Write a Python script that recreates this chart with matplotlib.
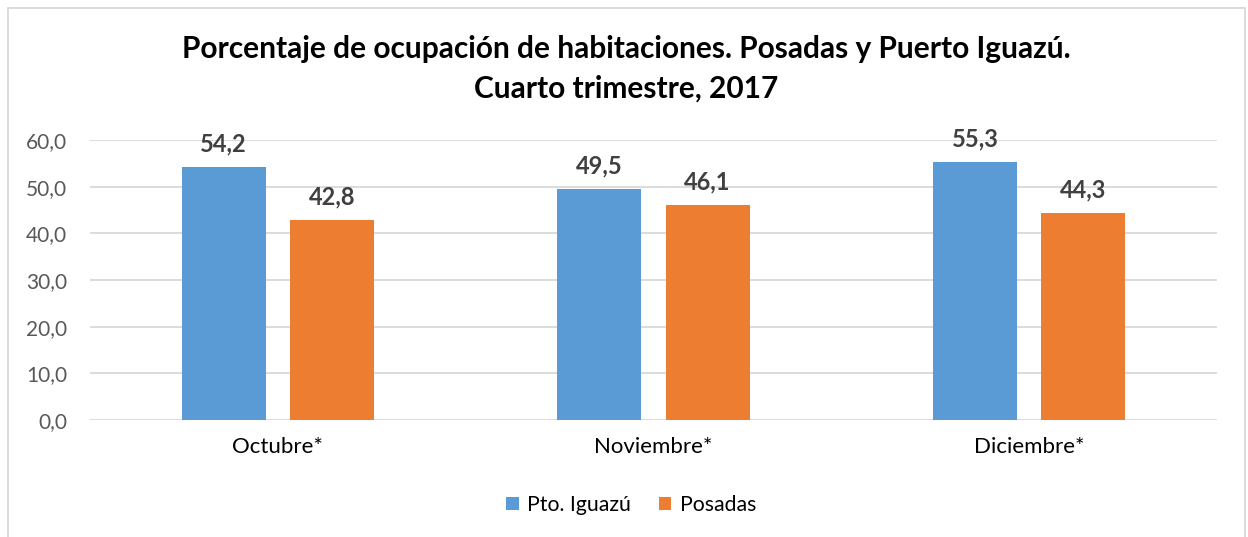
import matplotlib
matplotlib.use("Agg")
import matplotlib.pyplot as plt
import numpy as np
from matplotlib.patches import Rectangle

categories = ["Octubre*", "Noviembre*", "Diciembre*"]
series_names = ["Pto. Iguazú", "Posadas"]
iguazu = [54.2, 49.5, 55.3]
posadas = [42.8, 46.1, 44.3]
yticks = [0, 10, 20, 30, 40, 50, 60]
title = "Porcentaje de ocupación de habitaciones. Posadas y Puerto Iguazú.\nCuarto trimestre, 2017"

colors = ["#5B9BD5", "#ED7D31"]
plt.rcParams['font.family'] = ['Lato', 'DejaVu Sans']

W, H = 1248, 537
fig = plt.figure(figsize=(W / 100, H / 100), dpi=100)
fig.patches.append(Rectangle((8 / W, -0.05), (1245 - 8) / W, 1.05 - 8 / H,
                             transform=fig.transFigure, fill=False,
                             edgecolor="#D9D9D9", linewidth=1.3))

ax = fig.add_axes([90 / W, 1 - 420 / H, (1217 - 90) / W, (420 - 140) / H])
x = np.arange(len(categories))
bw = 0.224
off = 0.144
b1 = ax.bar(x - off, iguazu, bw, color=colors[0], label=series_names[0], zorder=3)
b2 = ax.bar(x + off, posadas, bw, color=colors[1], label=series_names[1], zorder=3)

for bars, vals in ((b1, iguazu), (b2, posadas)):
    for r, v in zip(bars, vals):
        ax.text(r.get_x() + r.get_width() / 2, v + 5.0, f"{v:.1f}".replace(".", ","),
                ha="center", va="center", fontsize=17, fontweight="bold", color="#404040", zorder=4)

ax.set_xlim(-0.5, len(categories) - 0.5)
ax.set_ylim(0, 60)
ax.set_yticks(yticks)
ax.set_yticklabels([f"{t:.1f}".replace(".", ",") for t in yticks], fontsize=15, color="#595959")
ax.set_xticks(x)
ax.set_xticklabels(categories, fontsize=16, color="#000000")
ax.tick_params(axis="both", length=0)
ax.tick_params(axis="y", pad=16.5)
ax.tick_params(axis="x", pad=12)
ax.grid(axis="y", color="#D9D9D9", linewidth=1.3, zorder=0)
for s in ax.spines.values():
    s.set_visible(False)

fig.text(626 / W, 1 - 69 / H, title, ha="center", va="center", fontsize=21.5,
         fontweight="bold", color="#000000", linespacing=1.5)

fig.legend(handles=[b1, b2], labels=series_names, loc="center", bbox_to_anchor=(631 / W, 1 - 505 / H),
           ncol=2, frameon=False, fontsize=15.3, handlelength=0.6, handleheight=0.6,
           handletextpad=0.4, columnspacing=1.3)

fig.savefig("out.png", dpi=100)
